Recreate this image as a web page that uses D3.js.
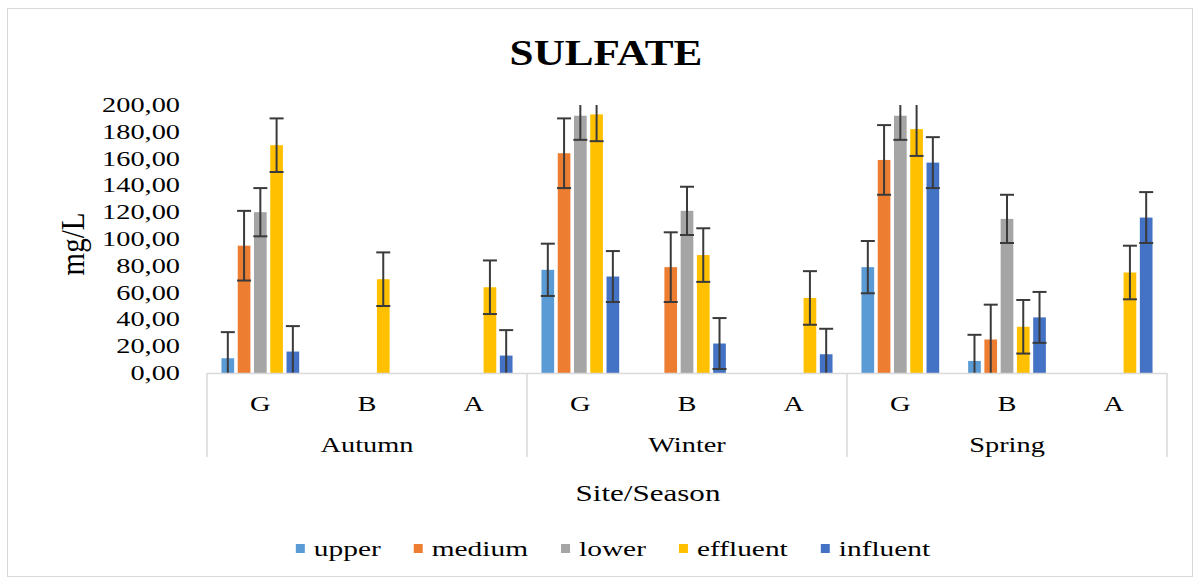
<!DOCTYPE html>
<html>
<head>
<meta charset="utf-8">
<script src="https://cdn.jsdelivr.net/npm/d3@7"></script>
<style>
  body { margin: 0; background: #fff; }
  text { font-family: "Liberation Serif", "Times New Roman", serif; fill: #000; }
</style>
</head>
<body>
<script>
// categories: site within season
var seasons = ["Autumn", "Winter", "Spring"];
var sites = ["G", "B", "A"];
var series = ["upper", "medium", "lower", "effluent", "influent"];
var colors = ["#5B9BD5", "#ED7D31", "#A5A5A5", "#FFC000", "#4472C4"];

// values per series, order: Autumn G,B,A / Winter G,B,A / Spring G,B,A
var upper    = [11, null, null, 77, null, null, 79, 9, null];
var medium   = [95, null, null, 164, 79, null, 159, 25, null];
var lower    = [120, null, null, 192, 121, null, 192, 115, null];
var effluent = [170, 70, 64, 193, 88, 56, 182, 34.5, 75];
var influent = [16, null, 13, 72, 22, 14, 157, 41.5, 116];
var errors   = [19.5, 26, 18, 20, 19];   // error bar size per series

var yTicks = [0, 20, 40, 60, 80, 100, 120, 140, 160, 180, 200];

var values = [upper, medium, lower, effluent, influent];

var width = 1199, height = 580;
var plotLeft = 207, plotRight = 1167, plotTop = 105, plotBottom = 373;
var sx = 1.35; // text in the picture is stretched horizontally

var svg = d3.select("body").append("svg")
    .attr("width", width)
    .attr("height", height);

//chart frame
svg.append("rect")
    .attr("x", 7.5).attr("y", 8.5)
    .attr("width", 1185).attr("height", 568)
    .attr("fill", "#fff")
    .attr("stroke", "#d9d9d9");

//helper for stretched text
function stext(x, y, str, size, scaleX, anchor, weight){
    return svg.append("text")
        .attr("transform", "translate(" + x + "," + y + ") scale(" + scaleX + ",1)")
        .attr("text-anchor", anchor || "middle")
        .attr("font-size", size)
        .attr("font-weight", weight || "normal")
        .text(str);
}

var cats = [];
seasons.forEach(function(s){ sites.forEach(function(t){ cats.push(s + "|" + t); }); });

var x0 = d3.scaleBand().domain(cats).range([plotLeft, plotRight]);
var x1 = d3.scaleBand().domain(series).range([0, x0.bandwidth()])
    .paddingInner(0.22).paddingOuter(0.89);
var xs = d3.scaleBand().domain(seasons).range([plotLeft, plotRight]);
var y = d3.scaleLinear().domain([0, 200]).range([plotBottom, plotTop]);

//bars
series.forEach(function(name, i){
    var pts = values[i].map(function(v, j){ return {cat: cats[j], v: v}; })
        .filter(function(d){ return d.v !== null; });
    svg.append("g").selectAll("rect")
        .data(pts).enter()
        .append("rect")
        .attr("x", function(d){ return x0(d.cat) + x1(name); })
        .attr("y", function(d){ return y(d.v); })
        .attr("width", x1.bandwidth())
        .attr("height", function(d){ return y(0) - y(d.v); })
        .attr("fill", colors[i]);
});

//error bars, clipped to the axis range like Excel does
series.forEach(function(name, i){
    var e = errors[i];
    values[i].forEach(function(v, j){
        if (v === null) return;
        var cx = x0(cats[j]) + x1(name) + x1.bandwidth() / 2;
        var hi = Math.min(v + e, 200), lo = Math.max(v - e, 0);
        var g = svg.append("g").attr("stroke", "#3a3a3a").attr("stroke-width", 2);
        g.append("line").attr("x1", cx).attr("x2", cx).attr("y1", y(lo)).attr("y2", y(hi));
        if (v + e <= 200) g.append("line").attr("x1", cx - 7).attr("x2", cx + 7).attr("y1", y(hi)).attr("y2", y(hi));
        if (v - e >= 0) g.append("line").attr("x1", cx - 7).attr("x2", cx + 7).attr("y1", y(lo)).attr("y2", y(lo));
    });
});

//category axis
svg.append("line")
    .attr("x1", plotLeft).attr("x2", plotRight)
    .attr("y1", plotBottom + 0.5).attr("y2", plotBottom + 0.5)
    .attr("stroke", "#d9d9d9").attr("stroke-width", 1.5);
xs.domain().concat(["end"]).forEach(function(s){
    var xx = s === "end" ? plotRight : xs(s);
    svg.append("line")
        .attr("x1", xx).attr("x2", xx)
        .attr("y1", plotBottom).attr("y2", 457)
        .attr("stroke", "#d9d9d9").attr("stroke-width", 1.5);
});
cats.forEach(function(c){
    stext(x0(c) + x0.bandwidth() / 2, 411, c.split("|")[1], 21, sx);
});
seasons.forEach(function(s){
    stext(xs(s) + xs.bandwidth() / 2, 452, s, 21, sx);
});

//value axis labels
yTicks.forEach(function(t){
    stext(180, y(t) + 7, d3.format(".2f")(t).replace(".", ","), 21, sx, "end");
});

//titles
stext(606, 65, "SULFATE", 36, 1.2, "middle", "bold");
stext(648, 501, "Site/Season", 23, sx);
svg.append("text")
    .attr("transform", "translate(84,244) rotate(-90) scale(1,1.15)")
    .attr("text-anchor", "middle")
    .attr("font-size", 29)
    .text("mg/L");

//legend
var leg = svg.append("g");
var lx = 0;
series.forEach(function(name, i){
    leg.append("rect")
        .attr("x", lx).attr("y", -12)
        .attr("width", 9).attr("height", 9)
        .attr("fill", colors[i]);
    var t = leg.append("text")
        .attr("transform", "translate(" + (lx + 18) + ",0) scale(1.4,1)")
        .attr("font-size", 21)
        .text(name);
    lx += 18 + t.node().getComputedTextLength() * 1.4 + 33;
});
lx -= 33;
leg.attr("transform", "translate(" + (613 - lx / 2) + ",556)");
</script>
</body>
</html>
